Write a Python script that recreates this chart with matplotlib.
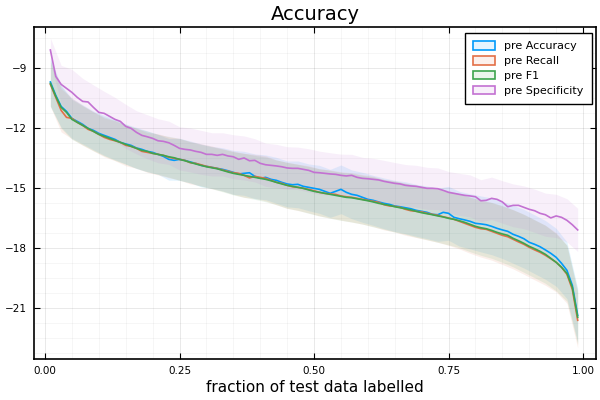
import numpy as np
import matplotlib
matplotlib.use("Agg")
import matplotlib.pyplot as plt
from matplotlib.patches import Patch
from matplotlib.ticker import MultipleLocator, FixedLocator
from matplotlib.colors import to_rgba

# fraction of test data labelled: 0.01 ... 0.99
frac = [round(0.01 * i, 2) for i in range(1, 100)]

pre_accuracy = [
    -9.68, -10.35, -10.9, -11.15, -11.5, -11.65, -11.8, -12.0, -12.1, -12.25,
    -12.35, -12.45, -12.55, -12.7, -12.78, -12.85, -12.98, -13.05, -13.15, -13.2,
    -13.3, -13.4, -13.55, -13.6, -13.55, -13.6, -13.68, -13.75, -13.85, -13.9,
    -13.95, -14.0, -14.05, -14.12, -14.2, -14.28, -14.25, -14.22, -14.4, -14.5,
    -14.45, -14.55, -14.6, -14.7, -14.78, -14.82, -14.8, -14.9, -14.95, -15.0,
    -15.05, -15.15, -15.25, -15.15, -15.05, -15.2, -15.3, -15.35, -15.45, -15.55,
    -15.6, -15.68, -15.75, -15.8, -15.88, -15.92, -15.97, -16.02, -16.1, -16.15,
    -16.2, -16.3, -16.32, -16.2, -16.25, -16.45, -16.52, -16.58, -16.65, -16.75,
    -16.78, -16.82, -16.9, -17.0, -17.08, -17.15, -17.3, -17.4, -17.52, -17.7,
    -17.8, -17.92, -18.08, -18.25, -18.45, -18.75, -19.1, -19.85, -21.35]

pre_recall = [
    -9.8, -10.45, -11.1, -11.45, -11.5, -11.7, -11.85, -12.05, -12.15, -12.3,
    -12.45, -12.55, -12.62, -12.7, -12.85, -12.9, -13.0, -13.15, -13.2, -13.25,
    -13.3, -13.35, -13.45, -13.5, -13.55, -13.6, -13.72, -13.75, -13.82, -13.9,
    -13.95, -14.0, -14.08, -14.15, -14.22, -14.25, -14.35, -14.48, -14.4, -14.45,
    -14.5, -14.6, -14.7, -14.75, -14.85, -14.92, -14.95, -15.0, -15.05, -15.12,
    -15.2, -15.25, -15.28, -15.3, -15.38, -15.42, -15.45, -15.5, -15.55, -15.6,
    -15.65, -15.7, -15.82, -15.88, -15.9, -15.95, -16.05, -16.12, -16.15, -16.18,
    -16.25, -16.3, -16.35, -16.42, -16.48, -16.55, -16.65, -16.75, -16.85, -16.95,
    -17.02, -17.05, -17.15, -17.25, -17.35, -17.42, -17.55, -17.68, -17.8, -17.95,
    -18.08, -18.2, -18.35, -18.52, -18.7, -18.95, -19.3, -20.05, -21.6]

pre_f1 = [
    -9.75, -10.4, -10.95, -11.2, -11.55, -11.7, -11.85, -12.0, -12.15, -12.3,
    -12.4, -12.5, -12.6, -12.7, -12.8, -12.9, -13.0, -13.1, -13.15, -13.25,
    -13.3, -13.35, -13.42, -13.47, -13.55, -13.62, -13.7, -13.78, -13.85, -13.92,
    -13.97, -14.02, -14.1, -14.18, -14.25, -14.3, -14.35, -14.4, -14.45, -14.5,
    -14.55, -14.62, -14.7, -14.78, -14.85, -14.9, -14.95, -15.0, -15.08, -15.15,
    -15.2, -15.25, -15.3, -15.35, -15.4, -15.45, -15.47, -15.52, -15.57, -15.62,
    -15.68, -15.75, -15.8, -15.85, -15.92, -15.97, -16.02, -16.08, -16.15, -16.22,
    -16.27, -16.32, -16.38, -16.43, -16.5, -16.55, -16.62, -16.7, -16.8, -16.9,
    -16.97, -17.02, -17.1, -17.2, -17.28, -17.35, -17.5, -17.62, -17.75, -17.9,
    -18.02, -18.15, -18.3, -18.5, -18.7, -18.95, -19.25, -19.95, -21.45]

pre_specificity = [
    -8.08, -9.4, -9.8, -10.0, -10.2, -10.45, -10.65, -10.68, -10.95, -11.2,
    -11.25, -11.4, -11.55, -11.65, -11.9, -12.0, -12.2, -12.35, -12.42, -12.5,
    -12.62, -12.65, -12.72, -12.85, -13.0, -13.05, -13.08, -13.15, -13.2, -13.3,
    -13.3, -13.35, -13.3, -13.38, -13.42, -13.55, -13.48, -13.62, -13.6, -13.75,
    -13.82, -13.85, -13.88, -13.92, -13.98, -14.0, -14.0, -14.05, -14.1, -14.2,
    -14.22, -14.25, -14.28, -14.3, -14.35, -14.38, -14.35, -14.45, -14.5, -14.52,
    -14.55, -14.58, -14.65, -14.7, -14.75, -14.78, -14.85, -14.88, -14.9, -14.95,
    -15.0, -15.0, -15.02, -15.1, -15.2, -15.25, -15.3, -15.35, -15.38, -15.42,
    -15.62, -15.6, -15.5, -15.55, -15.68, -15.92, -15.85, -15.85, -15.95, -16.05,
    -16.12, -16.25, -16.32, -16.48, -16.38, -16.45, -16.6, -16.82, -17.08]

# ribbon half-widths at every other fraction (0.01, 0.03, ..., 0.99)
std_accuracy = [
    1.2, 1.05, 1.0, 0.98, 0.97, 1.0, 1.02, 1.0, 1.03, 1.02,
    1.0, 1.04, 1.05, 1.05, 1.07, 1.05, 1.08, 1.1, 1.1, 1.12,
    1.12, 1.15, 1.15, 1.17, 1.17, 1.2, 1.2, 1.22, 1.22, 1.25,
    1.25, 1.27, 1.28, 1.3, 1.3, 1.32, 1.33, 1.35, 1.37, 1.38,
    1.4, 1.42, 1.43, 1.45, 1.47, 1.47, 1.47, 1.45, 1.42, 1.35]
std_recall = [
    1.1, 1.08, 1.02, 1.0, 0.98, 0.97, 1.0, 1.02, 1.0, 1.0,
    1.03, 1.02, 1.04, 1.06, 1.05, 1.07, 1.06, 1.08, 1.1, 1.1,
    1.13, 1.12, 1.15, 1.16, 1.18, 1.18, 1.2, 1.21, 1.23, 1.24,
    1.26, 1.26, 1.28, 1.3, 1.31, 1.33, 1.35, 1.37, 1.38, 1.4,
    1.42, 1.44, 1.46, 1.48, 1.5, 1.5, 1.5, 1.48, 1.45, 1.38]
std_f1 = [
    1.15, 1.05, 1.0, 0.98, 0.97, 0.98, 1.0, 1.0, 1.0, 1.02,
    1.0, 1.02, 1.05, 1.03, 1.05, 1.05, 1.07, 1.08, 1.1, 1.1,
    1.12, 1.12, 1.15, 1.15, 1.17, 1.18, 1.2, 1.2, 1.22, 1.22,
    1.25, 1.25, 1.27, 1.28, 1.3, 1.3, 1.32, 1.33, 1.35, 1.37,
    1.38, 1.4, 1.42, 1.43, 1.45, 1.45, 1.45, 1.43, 1.4, 1.35]
std_specificity = [
    0.6, 0.95, 1.15, 1.15, 1.12, 1.1, 1.1, 1.1, 1.08, 1.1,
    1.1, 1.08, 1.08, 1.1, 1.1, 1.08, 1.08, 1.1, 1.1, 1.08,
    1.08, 1.08, 1.06, 1.06, 1.08, 1.08, 1.06, 1.06, 1.05, 1.05,
    1.05, 1.05, 1.04, 1.04, 1.05, 1.05, 1.04, 1.04, 1.05, 1.05,
    1.05, 1.06, 1.06, 1.07, 1.07, 1.08, 1.08, 1.08, 1.08, 1.08]

labels = ["pre Accuracy", "pre Recall", "pre F1", "pre Specificity"]
colors = ["#009AFA", "#E36F47", "#3EA44E", "#C371D2"]
series = [pre_accuracy, pre_recall, pre_f1, pre_specificity]
stds = [std_accuracy, std_recall, std_f1, std_specificity]

xticks = [0.0, 0.25, 0.5, 0.75, 1.0]
xticklabels = ["0.00", "0.25", "0.50", "0.75", "1.00"]
yticks = [-21, -18, -15, -12, -9]

plt.rcParams['font.family'] = ['DejaVu Sans']
fig = plt.figure(figsize=(6, 4), dpi=100)
ax = fig.add_axes([0.0567, 0.1018, 0.9366, 0.8307])

x = np.array(frac)
xb = x[::2]
for m, s, c in zip(series, stds, colors):
    m = np.array(m)
    s = np.array(s)
    mb = m[::2]
    ax.fill_between(xb, mb - s, mb + s, color=c, alpha=0.11, lw=0, zorder=2)
for m, c in zip(series, colors):
    ax.plot(x, m, color=c, lw=1.2, zorder=3)
handles = [Patch(facecolor=to_rgba(c, 0.1), edgecolor=c, lw=1.2, label=lab)
           for c, lab in zip(colors, labels)]

ax.set_xlim(-0.0204, 1.024)
ax.set_ylim(-23.55, -6.93)
ax.xaxis.set_major_locator(FixedLocator(xticks))
ax.set_xticklabels(xticklabels)
ax.yaxis.set_major_locator(FixedLocator(yticks))
ax.xaxis.set_minor_locator(MultipleLocator(0.05))
ax.yaxis.set_minor_locator(MultipleLocator(0.75))

ax.grid(True, which='major', color='black', alpha=0.1, lw=0.6)
ax.grid(True, which='minor', color='black', alpha=0.05, lw=0.5)
ax.set_axisbelow(True)

ax.tick_params(which='major', direction='in', length=4, width=0.8, labelsize=7.5,
               top=True, right=True, pad=5, colors='black')
ax.tick_params(which='minor', direction='in', length=0, top=True, right=True)
for sp in ax.spines.values():
    sp.set_linewidth(1.2)
    sp.set_color('black')

ax.set_title("Accuracy", fontsize=14, pad=5)
ax.set_xlabel("fraction of test data labelled", fontsize=11, labelpad=3)

leg = ax.legend(handles=handles, loc='upper right', bbox_to_anchor=(0.993, 0.982),
                fontsize=8, frameon=True, fancybox=False, edgecolor='black',
                framealpha=1, handlelength=2.0, handleheight=0.8,
                handletextpad=0.8, labelspacing=0.42, borderpad=0.75,
                borderaxespad=0.0)
leg.get_frame().set_linewidth(1.0)

fig.savefig("out.png", dpi=100)
